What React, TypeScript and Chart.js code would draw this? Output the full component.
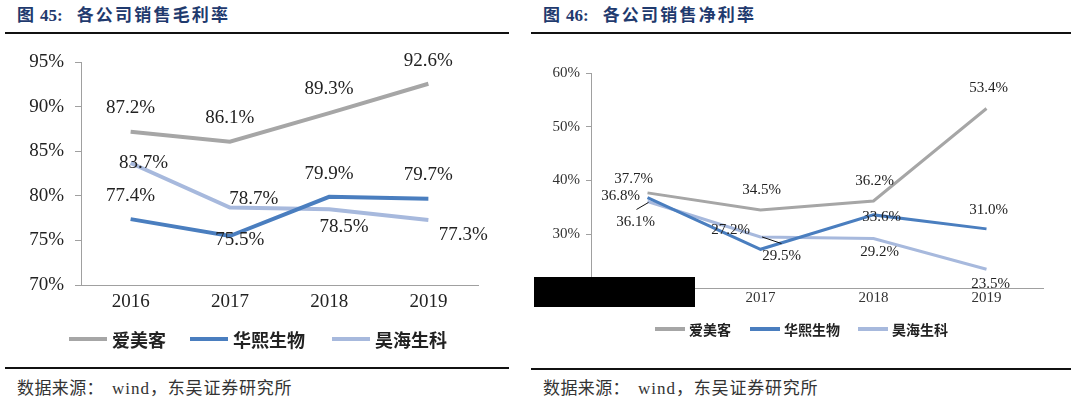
import React, { useEffect, useRef } from 'react';
import { Chart, registerables } from 'chart.js';

Chart.register(...registerables);

// ---------- data ----------
const years = ['2016', '2017', '2018', '2019'];
const seriesNames = ['爱美客', '华熙生物', '昊海生科'];

const grossAimeike = [87.2, 86.1, 89.3, 92.6];
const grossHuaxi = [77.4, 75.5, 79.9, 79.7];
const grossHaohai = [83.7, 78.7, 78.5, 77.3];

const netAimeike = [37.7, 34.5, 36.2, 53.4];
const netHuaxi = [36.8, 27.2, 33.6, 31.0];
const netHaohai = [36.1, 29.5, 29.2, 23.5];

const grossTicks = { min: 70, max: 95, step: 5 };
const netTicks = { min: 20, max: 60, step: 10 };

// ---------- styles ----------
const COLORS = ['#a6a6a6', '#4a7ebf', '#a7b9dd'];
const SERIF = '"Liberation Serif", "Times New Roman", serif';
const CJK = '"Noto Sans CJK SC", sans-serif';

// label offsets (px from the point) per dataset / per point
const grossLabelOffsets = [
  [[0, -24], [0, -24], [0, -24], [0, -23]],
  [[0, -23], [10, 4], [0, -23], [0, -24]],
  [[13, 0], [24, -9], [15, 18], [35, 15]],
];
const netLabelOffsets = [
  [[-14, -14], [1, -20], [1, -20], [2, -20]],
  [[-27, -2], [-30, -19], [8, 2], [2, -19]],
  [[-12, 21], [21, 19], [6, 14], [4, 15]],
];
// leader lines: [datasetIndex, pointIndex, x1, y1, x2, y2] offsets from point
const netLeaders = [
  [2, 0, -11, 8, 1, 1],
  [2, 1, 1.5, 0, 21, 6.6],
];

type Spec = {
  left: number; top: number; width: number; height: number;
  series: number[][];
  ticks: { min: number; max: number; step: number };
  offsets: number[][][];
  leaders: number[][];
  pad: { left: number; right: number; top: number; bottom: number };
  yWidth: number; xHeight: number;
  tickFont: number; tickColor: string; tickLen: number; tickPad: number; xPad: number;
  labelFont: number; lineWidth: number;
  legendFont: number; legendBox: number; legendGap: number; legendX: number[]; legendY: number;
};

function makeLabelPlugin(spec: Spec) {
  return {
    id: 'valueLabels',
    afterDatasetsDraw(chart: any) {
      const ctx = chart.ctx;
      ctx.save();
      ctx.font = `${spec.labelFont}px ${SERIF}`;
      ctx.fillStyle = '#222';
      ctx.textAlign = 'center';
      ctx.textBaseline = 'middle';
      chart.data.datasets.forEach((ds: any, di: number) => {
        const meta = chart.getDatasetMeta(di);
        meta.data.forEach((pt: any, i: number) => {
          const off = spec.offsets[di][i];
          const v = ds.data[i] as number;
          ctx.fillText(v.toFixed(1) + '%', pt.x + off[0], pt.y + off[1]);
        });
      });
      ctx.strokeStyle = '#111';
      ctx.lineWidth = 1;
      spec.leaders.forEach(([di, i, x1, y1, x2, y2]) => {
        const pt = chart.getDatasetMeta(di).data[i];
        ctx.beginPath();
        ctx.moveTo(pt.x + x1, pt.y + y1);
        ctx.lineTo(pt.x + x2, pt.y + y2);
        ctx.stroke();
      });
      ctx.restore();
    },
  };
}

function makeLegendPlugin(spec: Spec) {
  return {
    id: 'lineLegend',
    afterDraw(chart: any) {
      const ctx = chart.ctx;
      ctx.save();
      ctx.font = `bold ${spec.legendFont}px ${CJK}`;
      ctx.textAlign = 'left';
      ctx.textBaseline = 'middle';
      const y = spec.legendY - spec.top;
      chart.data.datasets.forEach((ds: any, i: number) => {
        const x = spec.legendX[i] - spec.left;
        ctx.fillStyle = ds.borderColor;
        ctx.fillRect(x, y - 2, spec.legendBox, 4);
        ctx.fillStyle = '#222';
        ctx.fillText(ds.label, x + spec.legendBox + spec.legendGap, y + 1);
      });
      ctx.restore();
    },
  };
}

function buildConfig(spec: Spec): any {
  return {
    type: 'line',
    data: {
      labels: years,
      datasets: spec.series.map((d, i) => ({
        label: seriesNames[i],
        data: d,
        borderColor: COLORS[i],
        backgroundColor: COLORS[i],
        borderWidth: spec.lineWidth,
        pointRadius: 0,
        tension: 0,
        fill: false,
      })),
    },
    options: {
      responsive: false,
      animation: false,
      layout: { padding: spec.pad },
      scales: {
        x: {
          offset: true,
          grid: { display: false, drawTicks: false, tickLength: 0 },
          border: { display: true, color: '#a0a0a0', width: 1 },
          ticks: {
            font: { family: SERIF, size: spec.tickFont },
            color: spec.tickColor,
            padding: spec.xPad,
            maxRotation: 0,
          },
          afterFit: (s: any) => { s.height = spec.xHeight; },
        },
        y: {
          min: spec.ticks.min,
          max: spec.ticks.max,
          grid: {
            display: true,
            drawOnChartArea: false,
            drawTicks: true,
            tickLength: spec.tickLen,
            color: '#a0a0a0',
          },
          border: { display: true, color: '#a0a0a0', width: 1 },
          ticks: {
            stepSize: spec.ticks.step,
            font: { family: SERIF, size: spec.tickFont },
            color: spec.tickColor,
            padding: spec.tickPad,
            callback: (v: any) => v + '%',
          },
          afterFit: (s: any) => { s.width = spec.yWidth; },
        },
      },
      plugins: {
        tooltip: { enabled: false },
        legend: { display: false },
      },
    },
    plugins: [makeLabelPlugin(spec), makeLegendPlugin(spec)],
  };
}

function LineChart({ spec }: { spec: Spec }) {
  const ref = useRef<HTMLCanvasElement | null>(null);
  useEffect(() => {
    const chart = new Chart(ref.current as HTMLCanvasElement, buildConfig(spec));
    return () => chart.destroy();
  }, []);
  return (
    <canvas
      ref={ref}
      width={spec.width}
      height={spec.height}
      style={{ position: 'absolute', left: spec.left, top: spec.top, width: spec.width, height: spec.height }}
    />
  );
}

const grossSpec: Spec = {
  left: 0, top: 40, width: 509, height: 320,
  series: [grossAimeike, grossHuaxi, grossHaohai],
  ticks: grossTicks,
  offsets: grossLabelOffsets,
  leaders: [],
  pad: { left: 0, right: 31, top: 18, bottom: 35 },
  yWidth: 81, xHeight: 40,
  tickFont: 19, tickColor: '#222', tickLen: 6, tickPad: 11, xPad: 6,
  labelFont: 19, lineWidth: 4,
  legendFont: 18, legendBox: 38, legendGap: 5, legendX: [69, 190, 332], legendY: 339,
};

const netSpec: Spec = {
  left: 531, top: 40, width: 540, height: 320,
  series: [netAimeike, netHuaxi, netHaohai],
  ticks: netTicks,
  offsets: netLabelOffsets,
  leaders: netLeaders,
  pad: { left: 0, right: 28, top: 33, bottom: 42 },
  yWidth: 60, xHeight: 30,
  tickFont: 15, tickColor: '#333', tickLen: 5, tickPad: 6, xPad: 1,
  labelFont: 15, lineWidth: 3,
  legendFont: 14, legendBox: 30, legendGap: 4, legendX: [655, 750, 858], legendY: 329,
};

const titleStyle: React.CSSProperties = {
  position: 'absolute', top: 5, fontFamily: `"Liberation Serif", ${CJK}`,
  fontWeight: 'bold', fontSize: 17, lineHeight: '21px', color: '#1f3a6e',
  whiteSpace: 'nowrap',
};
const sourceStyle: React.CSSProperties = {
  position: 'absolute', top: 378, fontFamily: `"Liberation Serif", ${CJK}`,
  fontSize: 17, lineHeight: '21px', color: '#333', whiteSpace: 'nowrap',
};
const rule = (left: number, top: number, width: number): React.CSSProperties => ({
  position: 'absolute', left, top, width, height: 2, background: '#111',
});

function Title({ left, num, text }: { left: number; num: string; text: string }) {
  return (
    <div style={{ ...titleStyle, left }}>
      <span>图</span>
      <span style={{ marginLeft: 6 }}>{num}:</span>
      <span style={{ marginLeft: 14, letterSpacing: 2.2 }}>{text}</span>
    </div>
  );
}

function Source({ left }: { left: number }) {
  return (
    <div style={{ ...sourceStyle, left }}>
      <span style={{ letterSpacing: 0.4 }}>数据来源：</span>
      <span style={{ marginLeft: 8, letterSpacing: 1 }}>wind</span>
      <span style={{ letterSpacing: 0.8 }}>，东吴证券研究所</span>
    </div>
  );
}

export default function App() {
  return (
    <div style={{ position: 'absolute', left: 0, top: 0, width: 1080, height: 399, background: '#fff', overflow: 'hidden' }}>
      <Title left={17} num="45" text="各公司销售毛利率" />
      <Title left={543} num="46" text="各公司销售净利率" />
      <div style={rule(5, 32, 504)} />
      <div style={rule(531, 32, 540)} />
      <LineChart spec={grossSpec} />
      <LineChart spec={netSpec} />
      <div style={{ position: 'absolute', left: 534, top: 277, width: 161, height: 30, background: '#000' }} />
      <div style={rule(5, 367, 504)} />
      <div style={rule(531, 368, 540)} />
      <Source left={17} />
      <Source left={543} />
    </div>
  );
}
